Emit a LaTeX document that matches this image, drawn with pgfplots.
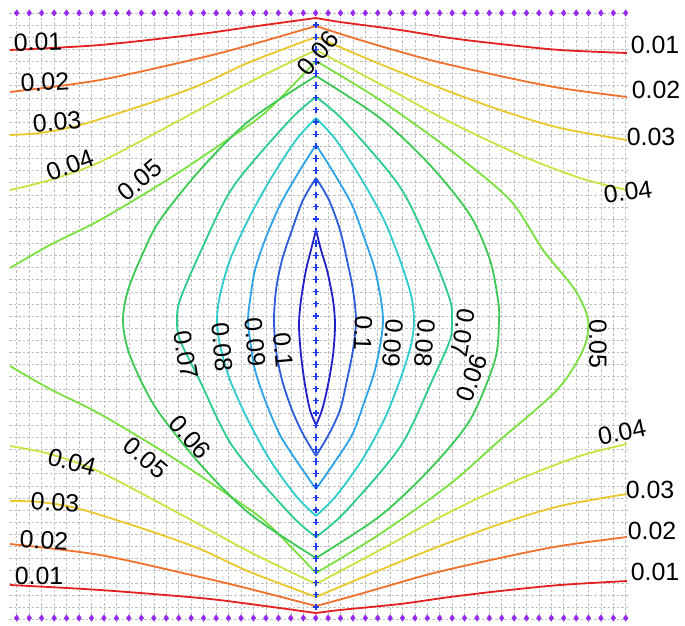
\documentclass[border=0pt]{standalone}
\usepackage{pgfplots}
\pgfplotsset{compat=1.18}
\usepackage{fontspec}
\setmainfont{Liberation Sans}
\definecolor{c01}{RGB}{228,32,32}
\definecolor{c02}{RGB}{240,112,44}
\definecolor{c03}{RGB}{234,200,44}
\definecolor{c04}{RGB}{200,228,64}
\definecolor{c05}{RGB}{122,224,64}
\definecolor{c06}{RGB}{60,200,84}
\definecolor{c07}{RGB}{44,204,140}
\definecolor{c08}{RGB}{44,204,204}
\definecolor{c09}{RGB}{44,162,232}
\definecolor{c10}{RGB}{44,92,220}
\definecolor{c11}{RGB}{32,32,200}
\definecolor{dia}{RGB}{150,40,240}
\definecolor{plusc}{RGB}{30,60,230}
\tikzset{lab/.style={font=\fontsize{25}{30}\selectfont, inner sep=0pt}}
\begin{document}
\begin{tikzpicture}
\begin{axis}[
  x=1bp, y=1bp, y dir=reverse,
  xmin=9, xmax=630, ymin=9, ymax=622,
  clip=false,
  axis line style={draw=none},
  xmajorticks=false, ymajorticks=false,
  xtick={16.7,29.2,41.6,54.1,66.5,79.0,91.5,103.9,116.4,128.8,141.3,153.8,166.2,178.7,191.1,203.6,216.1,228.5,241.0,253.4,265.9,278.4,290.8,303.3,315.7,328.1,340.5,352.9,365.3,377.7,390.1,402.5,414.9,427.3,439.7,452.1,464.5,476.9,489.3,501.7,514.1,526.5,538.9,551.3,563.7,576.1,588.5,600.9,613.3,625.7},
  ytick={12.9,25,37.1,49.3,61.4,73.5,85.6,97.8,109.9,122,134.1,146.3,158.4,170.5,182.6,194.8,206.9,219,231.1,243.3,255.4,267.5,279.6,291.8,303.9,316,328.1,340.3,352.4,364.5,376.6,388.8,400.9,413,425.1,437.3,449.4,461.5,473.6,485.8,497.9,510,522.1,534.3,546.4,558.5,570.6,582.8,594.9,607,619.1},
  grid=major,
  major grid style={gray!50, line width=0.5bp, dash pattern=on 2.5bp off 2bp},
  every axis plot/.append style={line width=1.8bp, smooth, tension=0.5},
]
% contour 0.01
\addplot[c01] coordinates {(10,50) (100,45) (200,34) (250,27) (316,18)};
\addplot[c01] coordinates {(316,18) (340,22) (400,30) (450,38) (500,44) (560,50) (627,53)};
\addplot[c01] coordinates {(10,585) (100,590) (200,598) (250,604) (316,613)};
\addplot[c01] coordinates {(316,613) (340,610) (400,604) (450,597) (500,591) (560,585) (627,581)};
% contour 0.02
\addplot[c02] coordinates {(10,92) (100,80) (200,58) (250,45) (316,26)};
\addplot[c02] coordinates {(316,26) (360,40) (430,60) (500,76) (560,88) (627,97)};
\addplot[c02] coordinates {(10,544) (100,555) (200,577) (250,589) (316,606)};
\addplot[c02] coordinates {(316,606) (360,594) (430,574) (500,558) (560,546) (627,537)};
% contour 0.03
\addplot[c03] coordinates {(10,135) (40,133) (80,125) (150,103) (200,85) (250,62) (316,37)};
\addplot[c03] coordinates {(316,37) (380,64) (440,88) (500,110) (560,128) (627,140)};
\addplot[c03] coordinates {(10,501) (40,502) (80,509) (150,531) (200,549) (250,572) (316,597)};
\addplot[c03] coordinates {(316,597) (380,570) (440,546) (500,524) (560,506) (627,494)};
% contour 0.04
\addplot[c04] coordinates {(10,190) (50,180) (100,162) (180,120) (250,82) (316,50)};
\addplot[c04] coordinates {(316,50) (380,84) (450,122) (520,155) (580,178) (627,190)};
\addplot[c04] coordinates {(10,446) (50,454) (100,472) (180,514) (250,552) (316,584)};
\addplot[c04] coordinates {(316,584) (380,550) (450,512) (520,479) (580,456) (627,444)};
% contour 0.05
\addplot[c05] coordinates {(10,268) (50,245) (100,220) (167,180) (230,138) (267,111) (316,61)};
\addplot[c05] coordinates {(10,366) (50,389) (100,414) (167,454) (230,496) (267,523) (316,573)};
\addplot[c05] coordinates {(316,61) (380,100) (450,150) (510,200) (543,250) (575,290) (588,320) (583,350) (557,390) (500,440) (450,484) (380,534) (316,573)};
% contour 0.06
\addplot[c06] coordinates {(316,76) (250,120) (200,170) (160,220) (143,253) (128,290) (123,320) (128,350) (143,385) (160,414) (200,464) (250,514) (316,558)};
\addplot[c06] coordinates {(316,76) (380,118) (430,165) (470,215) (490,260) (498,300) (499,320) (495,360) (470,420) (430,469) (380,516) (316,558)};
% contour 0.07
\addplot[c07] coordinates {(316,97) (290,120) (233,187) (200,253) (180,300) (177,320) (180,340) (200,381) (233,447) (290,514) (316,537)};
\addplot[c07] coordinates {(316,97) (345,122) (400,187) (432,253) (450,300) (452,320) (450,340) (432,381) (400,447) (345,512) (316,537)};
% contour 0.08
\addplot[c08] coordinates {(316,118) (296,140) (270,180) (248,220) (230,260) (220,295) (217,320) (220,345) (230,380) (248,420) (270,460) (296,496) (316,516)};
\addplot[c08] coordinates {(316,118) (336,140) (362,180) (384,220) (400,260) (411,295) (414,320) (411,345) (400,380) (384,420) (362,460) (336,496) (316,516)};
% contour 0.09
\addplot[c09] coordinates {(316,145) (300,170) (280,205) (265,240) (255,270) (250,300) (248,320) (250,340) (255,370) (265,400) (280,435) (300,466) (316,489)};
\addplot[c09] coordinates {(316,145) (332,170) (352,205) (365,240) (375,270) (381,300) (383,320) (381,340) (375,370) (365,400) (352,435) (332,466) (316,489)};
% contour 0.1
\addplot[c10] coordinates {(316,178) (303,200) (292,230) (282,260) (276,290) (274,320) (276,350) (282,380) (292,410) (303,434) (316,456)};
\addplot[c10] coordinates {(316,178) (329,200) (340,230) (347,260) (353,290) (356,320) (353,350) (347,380) (340,410) (329,434) (316,456)};
% contour 0.11
\addplot[c11] coordinates {(316,230) (311,250) (306,270) (301,300) (299,325) (301,355) (305,385) (310,410) (316,425)};
\addplot[c11] coordinates {(316,230) (321,250) (327,270) (333,300) (335,325) (333,355) (328,385) (322,410) (316,425)};
% plate markers
\addplot[only marks, mark=diamond*, mark size=3.2bp, color=dia, line width=0.3bp] coordinates {
(16.7,13) (29.2,13) (41.6,13) (54.1,13) (66.5,13) (79.0,13) (91.5,13) (103.9,13) (116.4,13) (128.8,13) (141.3,13) (153.8,13) (166.2,13) (178.7,13) (191.1,13) (203.6,13) (216.1,13) (228.5,13) (241.0,13) (253.4,13) (265.9,13) (278.4,13) (290.8,13) (303.3,13) (315.7,13) (328.1,13) (340.5,13) (352.9,13) (365.3,13) (377.7,13) (390.1,13) (402.5,13) (414.9,13) (427.3,13) (439.7,13) (452.1,13) (464.5,13) (476.9,13) (489.3,13) (501.7,13) (514.1,13) (526.5,13) (538.9,13) (551.3,13) (563.7,13) (576.1,13) (588.5,13) (600.9,13) (613.3,13) (625.7,13)
(16.7,618) (29.2,618) (41.6,618) (54.1,618) (66.5,618) (79.0,618) (91.5,618) (103.9,618) (116.4,618) (128.8,618) (141.3,618) (153.8,618) (166.2,618) (178.7,618) (191.1,618) (203.6,618) (216.1,618) (228.5,618) (241.0,618) (253.4,618) (265.9,618) (278.4,618) (290.8,618) (303.3,618) (315.7,618) (328.1,618) (340.5,618) (352.9,618) (365.3,618) (377.7,618) (390.1,618) (402.5,618) (414.9,618) (427.3,618) (439.7,618) (452.1,618) (464.5,618) (476.9,618) (489.3,618) (501.7,618) (514.1,618) (526.5,618) (538.9,618) (551.3,618) (563.7,618) (576.1,618) (588.5,618) (600.9,618) (613.3,618) (625.7,618)};
% line source markers
\addplot[only marks, mark=+, mark size=3.2bp, color=plusc, line width=1.1bp] coordinates {
(316,25) (316,37.1) (316,49.3) (316,61.4) (316,73.5) (316,85.6) (316,97.8) (316,109.9) (316,122) (316,134.1) (316,146.3) (316,158.4) (316,170.5) (316,182.6) (316,194.8) (316,206.9) (316,219) (316,231.1) (316,243.3) (316,255.4) (316,267.5) (316,279.6) (316,291.8) (316,303.9) (316,316) (316,328.1) (316,340.3) (316,352.4) (316,364.5) (316,376.6) (316,388.8) (316,400.9) (316,413) (316,425.1) (316,437.3) (316,449.4) (316,461.5) (316,473.6) (316,485.8) (316,497.9) (316,510) (316,522.1) (316,534.3) (316,546.4) (316,558.5) (316,570.6) (316,582.8) (316,594.9) (316,607)};
% labels
\node[lab, rotate=2] at (axis cs:38,42) {0.01};
\node[lab, rotate=3] at (axis cs:45,82) {0.02};
\node[lab, rotate=5] at (axis cs:57,122) {0.03};
\node[lab, rotate=20] at (axis cs:70,165) {0.04};
\node[lab, rotate=40] at (axis cs:140,180) {0.05};
\node[lab, rotate=50] at (axis cs:318,53) {0.06};
\node[lab] at (axis cs:655,45) {0.01};
\node[lab] at (axis cs:656,90) {0.02};
\node[lab] at (axis cs:651,137) {0.03};
\node[lab, rotate=8] at (axis cs:628,192) {0.04};
\node[lab, rotate=-80] at (axis cs:186,355) {0.07};
\node[lab, rotate=-85] at (axis cs:222,347) {0.08};
\node[lab, rotate=-85] at (axis cs:255,342) {0.09};
\node[lab, rotate=-85] at (axis cs:283,350) {0.1};
\node[lab, rotate=-92] at (axis cs:363,333) {0.1};
\node[lab, rotate=-95] at (axis cs:393,343) {0.09};
\node[lab, rotate=-95] at (axis cs:425,343) {0.08};
\node[lab, rotate=-100] at (axis cs:463,333) {0.07};
\node[lab, rotate=70] at (axis cs:472,378) {0.06};
\node[lab, rotate=-90] at (axis cs:598,344) {0.05};
\node[lab, rotate=-49] at (axis cs:190,437) {0.06};
\node[lab, rotate=-40] at (axis cs:146,458) {0.05};
\node[lab, rotate=-15] at (axis cs:72,462) {0.04};
\node[lab, rotate=-3] at (axis cs:55,502) {0.03};
\node[lab, rotate=-3] at (axis cs:44,540) {0.02};
\node[lab] at (axis cs:39,576) {0.01};
\node[lab, rotate=12] at (axis cs:622,432) {0.04};
\node[lab] at (axis cs:650,490) {0.03};
\node[lab] at (axis cs:652,531) {0.02};
\node[lab] at (axis cs:655,572) {0.01};
\path (axis cs:0,0) rectangle (axis cs:685,626);
\end{axis}
\end{tikzpicture}
\end{document}
